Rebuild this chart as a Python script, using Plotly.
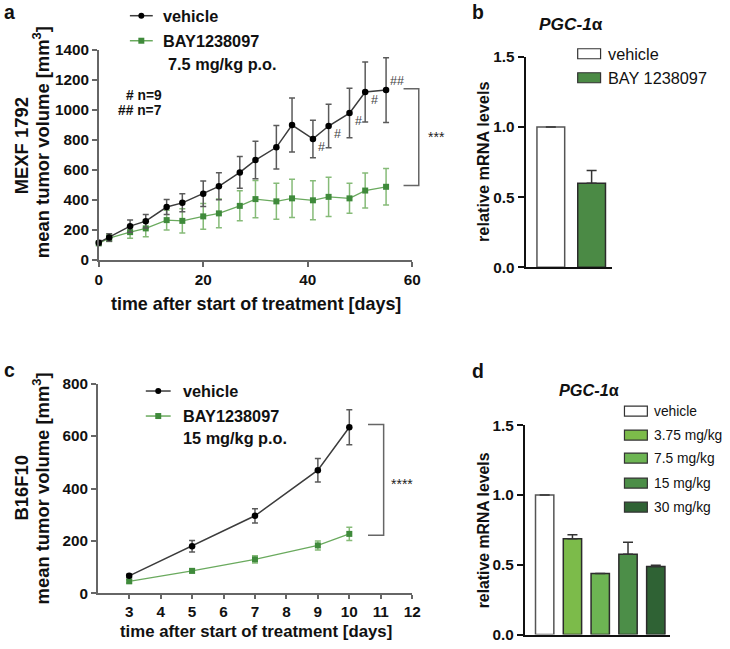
import plotly.graph_objects as go

W, H = 730, 649
# mapping of reference pixel positions to paper coordinates (with a small
# correction measured from the rendered output)
SX, OX, SY, OY = 0.987, 2.5, 0.973, 9.3
def X(p): return ((p - OX) / SX) / W
def Y(p): return 1 - ((p - OY) / SY) / H
def F(s): return round(s / 0.98, 1)

# ---------------- data ----------------
# panel a : MEXF 1792
days_a = [0, 2, 6, 9, 13, 16, 20, 23, 27, 30, 34, 37, 41, 44, 48, 51, 55]
veh_a = [115, 150, 225, 258, 352, 380, 441, 490, 583, 665, 750, 898, 806, 892, 978, 1118, 1131]
veh_a_err = [15, 25, 40, 45, 50, 60, 85, 90, 105, 125, 145, 180, 125, 145, 165, 200, 215]
bay_a = [110, 145, 185, 210, 265, 260, 290, 310, 360, 405, 390, 410, 397, 420, 410, 462, 487]
bay_a_err = [10, 22, 40, 55, 65, 80, 85, 95, 100, 124, 120, 128, 130, 131, 100, 117, 122]
hash_days = [41, 44, 48, 51]
hash2_day = 55

# panel b : PGC-1alpha
groups_b = ["vehicle", "BAY 1238097"]
vals_b = [1.0, 0.60]
err_b = [None, 0.09]

# panel c : B16F10
days_c = [3, 5, 7, 9, 10]
veh_c = [67, 180, 296, 470, 634]
veh_c_err = [6, 22, 27, 45, 67]
bay_c = [46, 86, 130, 183, 227]
bay_c_err = [6, 8, 14, 17, 25]

# panel d : PGC-1alpha dose
groups_d = ["vehicle", "3.75 mg/kg", "7.5 mg/kg", "15 mg/kg", "30 mg/kg"]
vals_d = [1.0, 0.686, 0.438, 0.576, 0.487]
err_d = [None, 0.03, None, 0.085, 0.01]

# ---------------- styles ----------------
FONT = "Liberation Sans, Arial, Helvetica, sans-serif"
VEH_LINE = "#3c3c3c"
VEH_ERR = "#5a5a5a"
BAY_LINE = "#6aaa5e"
BAY_MK = "#3f8a3b"
BAY_ERR = "#86bb78"
col_b = ["#ffffff", "#4b8a45"]
col_d = ["#ffffff", "#7cbb4a", "#6db553", "#4c8e48", "#2f6234"]

fig = go.Figure()

def line_pair(xa, ya, dx, vy, ve, by, be, leg):
    fig.add_trace(go.Scatter(
        x=dx, y=by, mode="lines+markers", xaxis=xa, yaxis=ya, cliponaxis=False,
        line=dict(color=BAY_LINE, width=1.3),
        marker=dict(symbol="square", size=6, color=BAY_MK),
        error_y=dict(type="data", array=be, color=BAY_ERR, thickness=1.5, width=3),
        name=leg[1], showlegend=False))
    fig.add_trace(go.Scatter(
        x=dx, y=vy, mode="lines+markers", xaxis=xa, yaxis=ya, cliponaxis=False,
        line=dict(color=VEH_LINE, width=1.5),
        marker=dict(symbol="circle", size=6.5, color="#000000"),
        error_y=dict(type="data", array=ve, color=VEH_ERR, thickness=1.5, width=3),
        name=leg[0], showlegend=False))

line_pair("x", "y", days_a, veh_a, veh_a_err, bay_a, bay_a_err, ["vehicle", "BAY1238097"])
line_pair("x3", "y3", days_c, veh_c, veh_c_err, bay_c, bay_c_err, ["vehicle", "BAY1238097"])

def bars(xa, ya, vals, err, cols, names, width):
    fig.add_trace(go.Bar(
        x=list(range(len(vals))), y=vals, xaxis=xa, yaxis=ya, width=width,
        marker=dict(color=cols, line=dict(color=["#555555"] + ["#2b2b2b"] * (len(vals) - 1), width=1.5)),
        error_y=dict(type="data", symmetric=False, array=err,
                     arrayminus=[0] * len(vals), color="#333333", thickness=1.5, width=5),
        hovertext=names, showlegend=False))

bars("x2", "y2", vals_b, err_b, col_b, groups_b, 0.68)
bars("x4", "y4", vals_d, err_d, col_d, groups_d, 0.66)

# ---------------- axes ----------------
tickf = dict(family=FONT, size=F(15), color="#111111", weight="bold")
gray_ax = dict(showline=True, linecolor="#666666", linewidth=1.5, ticks="outside",
               tickcolor="#666666", ticklen=5, tickwidth=1.5, showgrid=False,
               zeroline=False, tickfont=tickf)
blk_ax = dict(showline=True, linecolor="#111111", linewidth=2, ticks="outside",
              tickcolor="#111111", ticklen=6, tickwidth=2, showgrid=False,
              zeroline=False, tickfont=tickf)

C_BOT, C_TOP = 593.2, 383.7   # panel c plot area (reference px)

fig.update_layout(
    xaxis=dict(domain=[X(97.7), X(412.7)], range=[0, 60], tickvals=[0, 20, 40, 60],
               anchor="y", **gray_ax),
    yaxis=dict(domain=[Y(260), Y(50)], range=[0, 1400],
               tickvals=[0, 200, 400, 600, 800, 1000, 1200, 1400], anchor="x", **gray_ax),
    xaxis2=dict(domain=[X(526.7), X(613)], range=[-0.617, 1.488], showticklabels=False,
                anchor="y2", **{**blk_ax, "ticks": ""}),
    yaxis2=dict(domain=[Y(267.3), Y(57.3)], range=[0, 1.5], tickvals=[0, 0.5, 1.0, 1.5],
                tickformat=".1f", anchor="x2", **blk_ax),
    xaxis3=dict(domain=[X(96.7), X(412.7)], range=[2, 12],
                tickvals=[3, 4, 5, 6, 7, 8, 9, 10, 11, 12], anchor="y3",
                **{**gray_ax, "ticklen": 4}),
    yaxis3=dict(domain=[Y(C_BOT), Y(C_TOP)], range=[0, 800],
                tickvals=[0, 200, 400, 600, 800], anchor="x3", **gray_ax),
    xaxis4=dict(domain=[X(526), X(672)], range=[-0.71, 4.52], showticklabels=False,
                anchor="y4", **{**blk_ax, "ticks": ""}),
    yaxis4=dict(domain=[Y(634.3), Y(425.3)], range=[0, 1.5], tickvals=[0, 0.5, 1.0, 1.5],
                tickformat=".1f", anchor="x4", **blk_ax),
    width=W, height=H, autosize=False,
    margin=dict(l=0, r=0, t=0, b=0),
    paper_bgcolor="white", plot_bgcolor="white",
    font=dict(family=FONT, color="#111111"),
)

ann = []
shapes = []

def txt(x, y, s, size=16, bold=True, xa="center", ya="middle", angle=0, color="#111111"):
    f = dict(family=FONT, size=F(size), color=color, weight="bold" if bold else "normal")
    ann.append(dict(x=X(x), y=Y(y), xref="paper", yref="paper", text=s, showarrow=False,
                    xanchor=xa, yanchor=ya, textangle=angle, font=f))

# panel letters
txt(8, 12, "a", 19)
txt(479, 12, "b", 19)
txt(8, 370, "c", 19)
txt(479, 371, "d", 19)

# axis titles
txt(256, 304, "time after start of treatment [days]", 17.5)
txt(256, 631.5, "time after start of treatment [days]", 16.5)
txt(20, 146, "MEXF 1792", 18, angle=-90)
txt(40, 142, "mean tumor volume [mm<sup>3</sup>]", 18, angle=-90)
txt(20, 488, "B16F10", 18, angle=-90)
txt(40, 488, "mean tumor volume [mm<sup>3</sup>]", 18, angle=-90)
txt(484, 162, "relative mRNA levels", 16, angle=-90)
txt(484, 530, "relative mRNA levels", 15.5, angle=-90)

# gene titles
txt(572, 24, "<i>PGC-1</i>α", 17)
txt(590, 390, "<i>PGC-1</i>α", 16)

# legends for line panels
def line_legend(x0, x1, y, marker, color, mcol):
    shapes.append(dict(type="line", xref="paper", yref="paper", x0=X(x0), x1=X(x1),
                       y0=Y(y), y1=Y(y), line=dict(color=color, width=1.5)))
    cx, r = (x0 + x1) / 2, 3
    shapes.append(dict(type=marker, xref="paper", yref="paper", x0=X(cx - r), x1=X(cx + r),
                       y0=Y(y + r), y1=Y(y - r), fillcolor=mcol, line=dict(color=mcol, width=0)))

line_legend(129, 152, 16, "circle", VEH_LINE, "#000000")
line_legend(129, 152, 41, "rect", BAY_LINE, BAY_MK)
txt(160, 16, "vehicle", 16, xa="left")
txt(160, 41, "BAY1238097", 16, xa="left")
txt(165, 64, "7.5 mg/kg p.o.", 16, xa="left")
txt(163, 96, "# n=9", 13.5, xa="right")
txt(163, 111, "## n=7", 13.5, xa="right")

line_legend(145, 170, 391, "circle", VEH_LINE, "#000000")
line_legend(145, 170, 416, "rect", BAY_LINE, BAY_MK)
txt(180, 391, "vehicle", 16, xa="left")
txt(180, 416, "BAY1238097", 16, xa="left")
txt(180, 438, "15 mg/kg p.o.", 16, xa="left")

# hash marks in panel a
for d in hash_days:
    i = days_a.index(d)
    ann.append(dict(x=d, y=veh_a[i], xref="x", yref="y", text="#", showarrow=False,
                    xshift=9, yshift=-8, font=dict(family=FONT, size=12.5, color="#444444")))
i = days_a.index(hash2_day)
ann.append(dict(x=hash2_day, y=veh_a[i], xref="x", yref="y", text="##", showarrow=False,
                xshift=11, yshift=9, font=dict(family=FONT, size=12.5, color="#444444")))

# legends for bar panels
def box_legend(x0, x1, y, col, label, size):
    shapes.append(dict(type="rect", xref="paper", yref="paper", x0=X(x0), x1=X(x1),
                       y0=Y(y + 5), y1=Y(y - 5), fillcolor=col,
                       line=dict(color="#333333", width=1.2)))
    txt(x1 + 5, y, label, size, bold=False, xa="left")

box_legend(579, 602, 54, col_b[0], groups_b[0], 16)
box_legend(579, 602, 78, col_b[1], groups_b[1], 16)
for k, (g, c) in enumerate(zip(groups_d, col_d)):
    box_legend(626, 649, [411, 435, 458, 483, 507][k], c, g, 13.5)

# significance brackets
def bracket(xv, xa0, ytop, ybot, yref, label, ly):
    shapes.append(dict(type="path", xref="paper", yref=yref,
                       path=f"M {X(xa0)},{ytop} L {X(xv)},{ytop} L {X(xv)},{ybot} L {X(xa0)},{ybot}",
                       line=dict(color="#666666", width=1.5)))
    ann.append(dict(x=X(xv + 18), y=ly, xref="paper", yref=yref, text=label, showarrow=False,
                    font=dict(family=FONT, size=14, color="#222222")))

bracket(419.3, 404, 1140, 495, "y", "***", 820)
bracket(384, 368.3, 644, 222, "y3", "****", 418)

fig.update_layout(annotations=ann, shapes=shapes)
fig.write_html("out.html", config={"responsive": False, "displayModeBar": False},
               post_script="document.body.style.margin='0';document.body.style.overflow='hidden';")
